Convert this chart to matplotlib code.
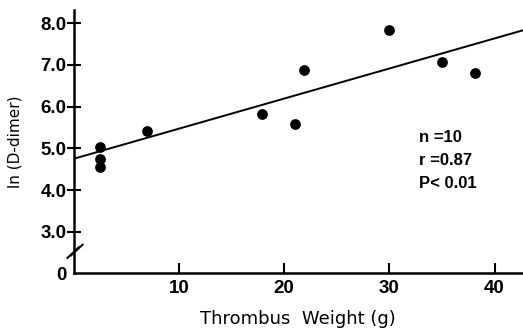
import matplotlib
matplotlib.use("Agg")
import matplotlib.pyplot as plt
import numpy as np

# thrombus weight (g) vs ln(D-dimer)
weight = [2.5, 2.5, 2.5, 7.0, 17.9, 21.0, 21.9, 30.0, 35.0, 38.1]
ln_ddimer = [5.03, 4.75, 4.56, 5.42, 5.82, 5.59, 6.89, 7.83, 7.08, 6.81]

# regression line as drawn
fit_intercept = 4.75
fit_slope = 0.0722

x_ticks = [10, 20, 30, 40]
y_ticks = [2.0, 3.0, 4.0, 5.0, 6.0, 7.0, 8.0]
y_tick_labels = ["0", "3.0", "4.0", "5.0", "6.0", "7.0", "8.0"]
stats_lines = ["n =10", "r =0.87", "P< 0.01"]

plt.rcParams['font.family'] = ['Liberation Sans', 'DejaVu Sans']

fig = plt.figure(figsize=(5.23, 3.28), dpi=100)
ax = fig.add_axes([0.1409, 0.1665, 0.8591, 0.8018])

ax.scatter(weight, ln_ddimer, s=45, color='black', zorder=3)

xs = np.array([0, 42.7])
ax.plot(xs, fit_intercept + fit_slope * xs, color='black', lw=1.4)

ax.set_xlim(0, 42.7)
ax.set_ylim(2.0, 8.31)

for s in ['top', 'right']:
    ax.spines[s].set_visible(False)
for s in ['left', 'bottom']:
    ax.spines[s].set_linewidth(1.8)

ax.set_xticks(x_ticks)
ax.set_xticklabels([str(t) for t in x_ticks], fontsize=13.5, fontweight='bold')
ax.set_yticks(y_ticks)
ax.set_yticklabels(y_tick_labels, fontsize=13.5, fontweight='bold')
ax.tick_params(axis='x', direction='in', length=7, width=1.5, pad=5)
ax.tick_params(axis='y', direction='inout', length=10, width=1.5, pad=0)
ax.yaxis.get_major_ticks()[0].tick1line.set_visible(False)

# axis break marks
for dx in (0.0, 0.35):
    ax.plot([-0.6 + dx, 0.5 + dx], [2.37 + dx * 0.17, 2.63 + dx * 0.17],
            color='black', lw=1.4, clip_on=False)

ax.set_xlabel("Thrombus  Weight (g)", fontsize=13, labelpad=9,
              family='DejaVu Sans')
ax.set_ylabel("ln (D-dimer)", fontsize=11, labelpad=13,
              family='DejaVu Sans')

for i, line in enumerate(stats_lines):
    ax.text(32.8, 5.25 - i * 0.55, line, fontsize=12, fontweight='bold',
            va='center', ha='left')

fig.savefig("out.png", dpi=100)
